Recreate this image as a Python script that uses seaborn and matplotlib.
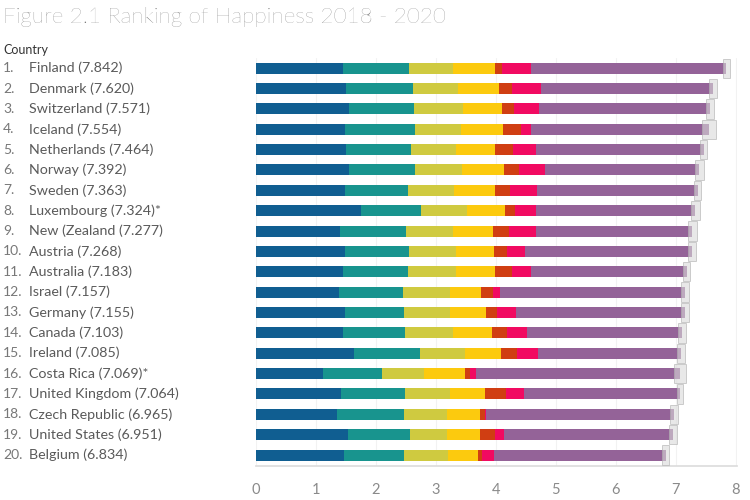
import numpy as np
import pandas as pd
import matplotlib
matplotlib.use("Agg")
import matplotlib.pyplot as plt
import matplotlib.transforms as mtransforms
import seaborn as sns

# ---------------- data ----------------
ranks = [f"{i}." for i in range(1, 21)]
countries = ["Finland", "Denmark", "Switzerland", "Iceland", "Netherlands", "Norway",
             "Sweden", "Luxembourg", "New (Zealand", "Austria", "Australia", "Israel",
             "Germany", "Canada", "Ireland", "Costa Rica", "United Kingdom",
             "Czech Republic", "United States", "Belgium"]
scores = [7.842, 7.620, 7.571, 7.554, 7.464, 7.392, 7.363, 7.324, 7.277, 7.268,
          7.183, 7.157, 7.155, 7.103, 7.085, 7.069, 7.064, 6.965, 6.951, 6.834]
suffix = ["", "", "", "", "", "", "", "*", "", "", "", "", "", "", "", "*", "", "", "", ""]

gdp = [1.446, 1.502, 1.550, 1.482, 1.501, 1.543, 1.478, 1.751, 1.400, 1.492,
       1.453, 1.376, 1.480, 1.447, 1.632, 1.119, 1.423, 1.352, 1.529, 1.463]
social = [1.106, 1.108, 1.079, 1.172, 1.079, 1.108, 1.062, 1.003, 1.094, 1.062,
          1.076, 1.074, 0.993, 1.044, 1.104, 0.981, 1.062, 1.108, 1.031, 0.997]
health = [0.741, 0.763, 0.816, 0.772, 0.753, 0.782, 0.763, 0.760, 0.785, 0.782,
          0.801, 0.788, 0.757, 0.798, 0.756, 0.704, 0.757, 0.720, 0.620, 0.748]
freedom = [0.691, 0.686, 0.653, 0.698, 0.647, 0.703, 0.685, 0.639, 0.665, 0.640,
           0.647, 0.509, 0.600, 0.648, 0.600, 0.681, 0.580, 0.554, 0.554, 0.487]
generosity = [0.124, 0.208, 0.204, 0.293, 0.302, 0.249, 0.244, 0.166, 0.276, 0.215,
              0.291, 0.208, 0.195, 0.246, 0.256, 0.075, 0.340, 0.085, 0.249, 0.066]
corruption = [0.481, 0.485, 0.413, 0.170, 0.384, 0.427, 0.448, 0.353, 0.445, 0.292,
              0.317, 0.119, 0.316, 0.335, 0.352, 0.102, 0.306, 0.015, 0.156, 0.205]
dystopia = [3.253, 2.868, 2.856, 2.967, 2.798, 2.580, 2.683, 2.652, 2.612, 2.785,
            2.598, 3.083, 2.814, 2.585, 2.385, 3.407, 2.596, 3.131, 2.812, 2.868]
ci_low = [7.780, 7.552, 7.500, 7.438, 7.410, 7.323, 7.301, 7.245, 7.204, 7.198,
          7.126, 7.092, 7.092, 7.041, 7.014, 6.974, 7.012, 6.897, 6.884, 6.776]
ci_high = [7.904, 7.687, 7.643, 7.670, 7.518, 7.462, 7.425, 7.404, 7.351, 7.337,
           7.240, 7.222, 7.217, 7.165, 7.156, 7.165, 7.116, 7.033, 7.018, 6.891]

components = ["GDP", "Social", "Health", "Freedom", "Generosity", "Corruption", "Dystopia"]
colors = ["#105E91", "#18948E", "#CFCA40", "#FCCA0E", "#D03E12", "#F10A61", "#946398"]

df = pd.DataFrame({"Country": countries, "GDP": gdp, "Social": social, "Health": health,
                   "Freedom": freedom, "Generosity": generosity, "Corruption": corruption,
                   "Dystopia": dystopia})
cum = df[components].cumsum(axis=1)

# ---------------- figure ----------------
sns.set_theme(style="white")
plt.rcParams["font.family"] = ["Lato", "DejaVu Sans"]

fig = plt.figure(figsize=(7.5, 5), dpi=100)
ax = fig.add_axes([256 / 750, (500 - 466) / 500, (737 - 256) / 750, 408 / 500])

for comp, col in reversed(list(zip(components, colors))):
    sns.barplot(x=cum[comp], y=df["Country"], order=countries, orient="h",
                color=col, saturation=1, width=0.54, errorbar=None, ax=ax,
                linewidth=0, edgecolor="none", zorder=2)

# confidence whiskers
ypos = np.arange(len(countries))
ax.barh(ypos, np.array(ci_high) - np.array(ci_low), left=ci_low, height=0.95,
        color="#d9d9d9", alpha=0.6, edgecolor="#b0b0b0", linewidth=0.7, zorder=3)

ax.set_xlim(0, 8.02)
ax.set_ylim(19.54, -0.5)
ax.set_xticks(range(0, 9))
ax.set_xticklabels([str(i) for i in range(0, 9)], color="#8a8a8a", fontsize=10.5)
ax.set_yticks([])
ax.set_xlabel("")
ax.set_ylabel("")
ax.grid(axis="x", color="#f2f2f2", linewidth=0.8, zorder=0)
ax.set_axisbelow(True)
for s in ["top", "right", "left"]:
    ax.spines[s].set_visible(False)
ax.spines["bottom"].set_color("#dddddd")
ax.tick_params(axis="x", length=0, pad=12)

# labels
trans = mtransforms.blended_transform_factory(fig.transFigure, ax.transData)
for i, (r, c, s, sfx) in enumerate(zip(ranks, countries, scores, suffix)):
    ax.text(3 / 750, i, r, transform=trans, ha="left", va="center",
            fontsize=10, color="#777777")
    ax.text(29 / 750, i, f"{c} ({s:.3f}){sfx}", transform=trans, ha="left",
            va="center", fontsize=10.3, color="#5a5a5a")

fig.text(3 / 750, 1 - 50 / 500, "Country", ha="left", va="center",
         fontsize=9, color="#333333")
fig.text(3 / 750, 1 - 17 / 500, "Figure 2.1 Ranking of Happiness 2018 - 2020",
         ha="left", va="center", fontsize=16.2, color="#6f6f6f", fontweight="light")

fig.savefig("out.png", dpi=100)
